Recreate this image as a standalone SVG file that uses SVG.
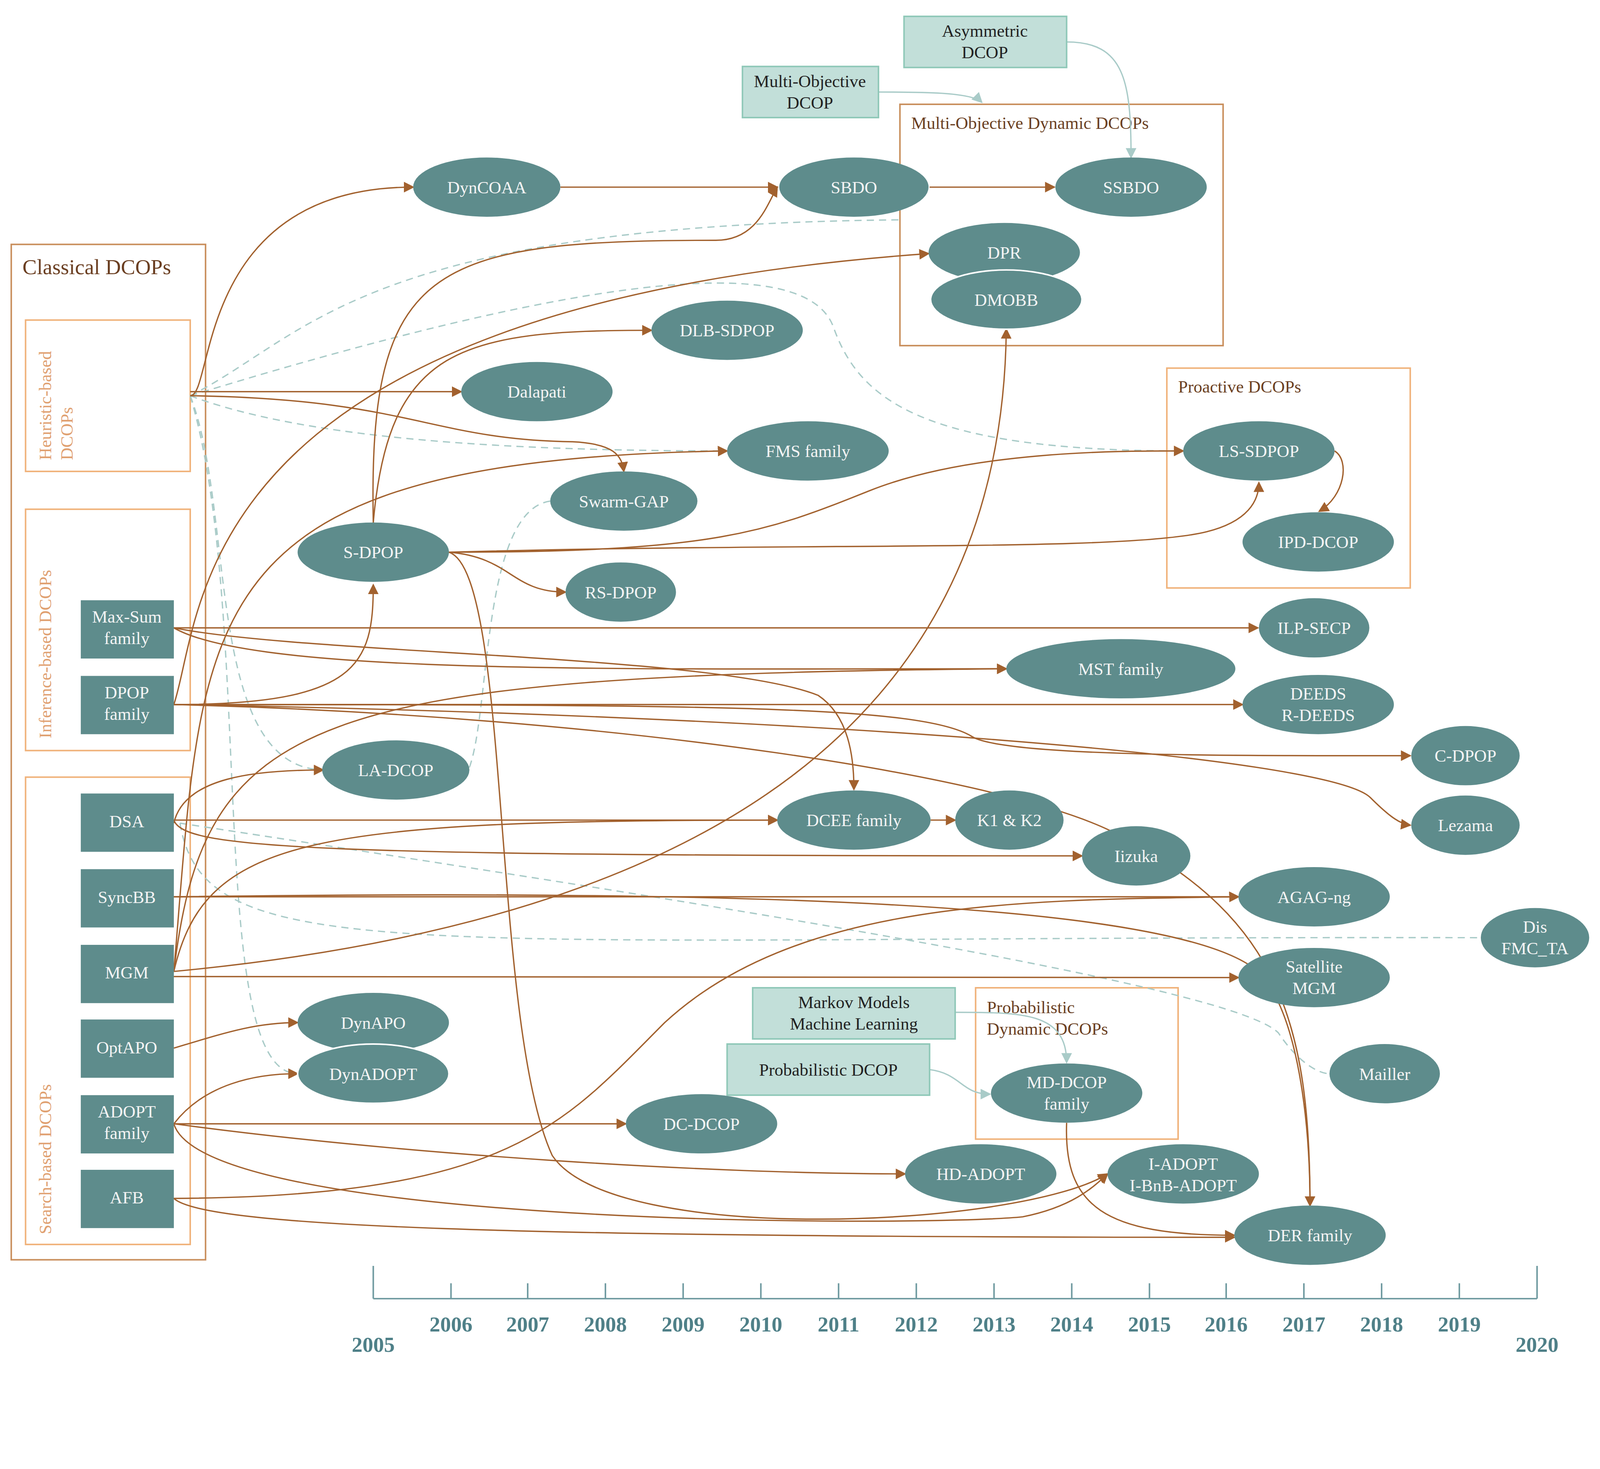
<svg xmlns="http://www.w3.org/2000/svg" width="4415" height="3761" viewBox="0 0 4415 3761">
<style>
.n ellipse,.n rect{fill:#5e8c8c}
.n text{fill:#f4f4f4;font-family:"Liberation Serif",serif;font-size:17px;text-anchor:middle}
.g rect{fill:#c2dfd9;stroke:#8fc8b8;stroke-width:1.5}
.g text{fill:#222;font-family:"Liberation Serif",serif;font-size:17px;text-anchor:middle}
.c{fill:none;stroke:#f0b27a;stroke-width:1.5}
.ct{fill:#6b3f22;font-family:"Liberation Serif",serif;font-size:17px}
.b{fill:none;stroke:#a2612e;stroke-width:1.3;marker-end:url(#ab)}
.d{fill:none;stroke:#a9cbc8;stroke-width:1.3;stroke-dasharray:7 5}
.t{fill:none;stroke:#a9cbc8;stroke-width:1.3;marker-end:url(#at)}
.y{fill:#4f8088;font-family:"Liberation Serif",serif;font-size:21px;font-weight:bold;text-anchor:middle}
</style>
<defs>
<marker id="ab" markerWidth="8" markerHeight="8" refX="7" refY="4" orient="auto" markerUnits="strokeWidth"><path d="M0,0 L8,4 L0,8 z" fill="#a2612e"/></marker>
<marker id="at" markerWidth="8" markerHeight="8" refX="7" refY="4" orient="auto" markerUnits="strokeWidth"><path d="M0,0 L8,4 L0,8 z" fill="#a9cbc8"/></marker>
</defs>
<rect width="4415" height="3761" fill="#fff"/>
<g transform="scale(2.618)">
<g id="containers">
<rect class="c" x="11" y="239" width="190" height="993" style="stroke:#c98f5d"/>
<text class="ct" x="22" y="268" style="font-size:21px">Classical DCOPs</text>
<rect class="c" x="25" y="313" width="161" height="148"/>
<text class="ct" transform="translate(50,450) rotate(-90)" style="fill:#e0a070">Heuristic-based</text>
<text class="ct" transform="translate(71,450) rotate(-90)" style="fill:#e0a070">DCOPs</text>
<rect class="c" x="25" y="498" width="161" height="236"/>
<text class="ct" transform="translate(50,722) rotate(-90)" style="fill:#e0a070">Inference-based DCOPs</text>
<rect class="c" x="25" y="760" width="161" height="457"/>
<text class="ct" transform="translate(50,1207) rotate(-90)" style="fill:#e0a070">Search-based DCOPs</text>
<rect class="c" x="880" y="102" width="316" height="236" style="stroke:#c98f5d"/>
<text class="ct" x="891" y="126">Multi-Objective Dynamic DCOPs</text>
<rect class="c" x="1141" y="360" width="238" height="215"/>
<text class="ct" x="1152" y="384">Proactive DCOPs</text>
<rect class="c" x="954" y="966" width="198" height="148"/>
<text class="ct" x="965" y="991">Probabilistic</text>
<text class="ct" x="965" y="1012">Dynamic DCOPs</text>
</g>
<g id="connectors">
<path class="d" d="M186,387 C300,330 350,220 880,215"/>
<path class="d" d="M186,387 C600,260 790,250 815,320 C840,390 900,441 1157,441"/>
<path class="d" d="M186,387 C300,430 500,441 711,441"/>
<path class="d" d="M186,387 C230,500 200,750 316,753"/>
<path class="d" d="M186,387 C250,600 200,1050 291,1050"/>
<path class="d" d="M176,805 C200,950 400,915 1448,917"/>
<path class="d" d="M176,805 C600,870 1200,960 1250,1010 C1270,1040 1290,1050 1300,1050"/>
<path class="d" d="M538,490 C470,500 480,700 458,753"/>
<path class="t" d="M1043,41 C1100,41 1106,80 1106,154"/>
<path class="t" d="M859,90 C900,90 950,90 960,100"/>
<path class="t" d="M934,990 C1000,990 1043,990 1043,1039"/>
<path class="t" d="M909,1046 C940,1050 940,1070 968,1070"/>
<path class="b" d="M186,387 C210,387 190,183 404,183"/>
<path class="b" d="M186,383 L451,383"/>
<path class="b" d="M186,387 C400,390 420,430 560,432 C600,434 608,445 610,461"/>
<path class="b" d="M548,183 L760,183"/>
<path class="b" d="M909,183 L1031,183"/>
<path class="b" d="M365,511 C360,260 420,235 700,235 C740,235 750,200 760,183"/>
<path class="b" d="M170,689 C200,600 180,300 908,248"/>
<path class="b" d="M365,511 C380,340 450,323 637,323"/>
<path class="b" d="M170,689 C350,689 365,650 365,572"/>
<path class="b" d="M439,540 C500,545 500,579 553,579"/>
<path class="b" d="M439,540 C700,540 750,520 850,480 C950,440 1100,441 1157,441"/>
<path class="b" d="M439,540 C800,530 1100,540 1180,520 C1220,510 1231,490 1231,472"/>
<path class="b" d="M439,540 C500,560 480,1000 540,1130 C600,1220 1000,1200 1083,1148"/>
<path class="b" d="M1305,441 C1320,450 1315,485 1290,500"/>
<path class="b" d="M170,950 C700,900 980,700 984,322"/>
<path class="b" d="M170,950 C200,600 180,450 711,441"/>
<path class="b" d="M170,614 L1230,614"/>
<path class="b" d="M170,614 C300,640 700,640 800,680 C830,700 835,740 835,772"/>
<path class="b" d="M170,614 C250,660 600,654 984,654"/>
<path class="b" d="M170,689 L1215,689"/>
<path class="b" d="M170,689 C700,689 900,690 950,720 C980,740 1200,739 1379,739"/>
<path class="b" d="M170,689 C800,700 1300,740 1340,780 C1360,800 1370,806 1379,807"/>
<path class="b" d="M170,689 C600,700 1000,760 1100,820 C1250,900 1281,1000 1281,1179"/>
<path class="b" d="M170,805 C180,760 250,753 316,753"/>
<path class="b" d="M170,802 L760,802"/>
<path class="b" d="M910,802 L934,802"/>
<path class="b" d="M170,802 C180,830 300,837 1058,837"/>
<path class="b" d="M170,955 L1211,956"/>
<path class="b" d="M170,877 C600,877 1100,877 1211,877"/>
<path class="b" d="M170,877 C700,870 1150,880 1230,950 C1270,990 1281,1100 1281,1179"/>
<path class="b" d="M170,950 C200,700 300,660 984,654"/>
<path class="b" d="M170,950 C200,820 300,802 760,802"/>
<path class="b" d="M170,1025 C220,1010 250,1000 291,1000"/>
<path class="b" d="M170,1099 C200,1060 250,1050 291,1050"/>
<path class="b" d="M170,1099 L612,1099"/>
<path class="b" d="M170,1099 C400,1130 700,1148 885,1148"/>
<path class="b" d="M170,1099 C200,1200 900,1200 1000,1190 C1050,1180 1070,1160 1083,1148"/>
<path class="b" d="M170,1172 C500,1170 550,1100 650,1000 C780,880 1000,880 1211,877"/>
<path class="b" d="M170,1172 C200,1200 500,1210 1207,1210"/>
<path class="b" d="M1043,1098 C1040,1180 1080,1208 1207,1208"/>
</g>
<g id="boxes" class="g">
<rect x="884" y="16" width="159" height="50"/><text x="963" y="36">Asymmetric</text><text x="963" y="57">DCOP</text>
<rect x="726" y="65" width="133" height="50"/><text x="792" y="85">Multi-Objective</text><text x="792" y="106">DCOP</text>
<rect x="736" y="966" width="198" height="50"/><text x="835" y="986">Markov Models</text><text x="835" y="1007">Machine Learning</text>
<rect x="711" y="1021" width="198" height="50"/><text x="810" y="1052">Probabilistic DCOP</text>
</g>
<g class="n">
<g id="maxsum"><rect x="79" y="587" width="91" height="57"/><text x="124" y="609">Max-Sum</text><text x="124" y="630">family</text></g>
<g id="dpop"><rect x="79" y="661" width="91" height="57"/><text x="124" y="683">DPOP</text><text x="124" y="704">family</text></g>
<g id="dsa"><rect x="79" y="776" width="91" height="57"/><text x="124" y="809">DSA</text></g>
<g id="syncbb"><rect x="79" y="850" width="91" height="57"/><text x="124" y="883">SyncBB</text></g>
<g id="mgm"><rect x="79" y="924" width="91" height="57"/><text x="124" y="957">MGM</text></g>
<g id="optapo"><rect x="79" y="997" width="91" height="57"/><text x="124" y="1030">OptAPO</text></g>
<g id="adopt"><rect x="79" y="1071" width="91" height="57"/><text x="124" y="1093">ADOPT</text><text x="124" y="1114">family</text></g>
<g id="afb"><rect x="79" y="1144" width="91" height="57"/><text x="124" y="1177">AFB</text></g>
<g id="dyncoaa"><ellipse cx="476" cy="183" rx="72" ry="29"/><text x="476" y="189">DynCOAA</text></g>
<g id="sbdo"><ellipse cx="835" cy="183" rx="73" ry="29"/><text x="835" y="189">SBDO</text></g>
<g id="ssbdo"><ellipse cx="1106" cy="183" rx="74" ry="29"/><text x="1106" y="189">SSBDO</text></g>
<g id="dpr"><ellipse cx="982" cy="247" rx="74" ry="29"/><text x="982" y="253">DPR</text></g>
<g id="dmobb"><ellipse cx="984" cy="293" rx="74" ry="29" style="stroke:#fff;stroke-width:1.5"/><text x="984" y="299">DMOBB</text></g>
<g id="dlb"><ellipse cx="711" cy="323" rx="74" ry="29"/><text x="711" y="329">DLB-SDPOP</text></g>
<g id="dalapati"><ellipse cx="525" cy="383" rx="74" ry="29"/><text x="525" y="389">Dalapati</text></g>
<g id="fms"><ellipse cx="790" cy="441" rx="79" ry="29"/><text x="790" y="447">FMS family</text></g>
<g id="swarm"><ellipse cx="610" cy="490" rx="72" ry="29"/><text x="610" y="496">Swarm-GAP</text></g>
<g id="sdpop"><ellipse cx="365" cy="540" rx="74" ry="29"/><text x="365" y="546">S-DPOP</text></g>
<g id="rsdpop"><ellipse cx="607" cy="579" rx="54" ry="29"/><text x="607" y="585">RS-DPOP</text></g>
<g id="lssdpop"><ellipse cx="1231" cy="441" rx="74" ry="29"/><text x="1231" y="447">LS-SDPOP</text></g>
<g id="ipd"><ellipse cx="1289" cy="530" rx="74" ry="29"/><text x="1289" y="536">IPD-DCOP</text></g>
<g id="ilp"><ellipse cx="1285" cy="614" rx="54" ry="29"/><text x="1285" y="620">ILP-SECP</text></g>
<g id="mst"><ellipse cx="1096" cy="654" rx="112" ry="29"/><text x="1096" y="660">MST family</text></g>
<g id="deeds"><ellipse cx="1289" cy="689" rx="74" ry="29"/><text x="1289" y="684">DEEDS</text><text x="1289" y="705">R-DEEDS</text></g>
<g id="cdpop"><ellipse cx="1433" cy="739" rx="53" ry="29"/><text x="1433" y="745">C-DPOP</text></g>
<g id="ladcop"><ellipse cx="387" cy="753" rx="72" ry="29"/><text x="387" y="759">LA-DCOP</text></g>
<g id="dcee"><ellipse cx="835" cy="802" rx="75" ry="29"/><text x="835" y="808">DCEE family</text></g>
<g id="k1k2"><ellipse cx="987" cy="802" rx="53" ry="29"/><text x="987" y="808">K1 &amp; K2</text></g>
<g id="lezama"><ellipse cx="1433" cy="807" rx="53" ry="29"/><text x="1433" y="813">Lezama</text></g>
<g id="iizuka"><ellipse cx="1111" cy="837" rx="53" ry="29"/><text x="1111" y="843">Iizuka</text></g>
<g id="agag"><ellipse cx="1285" cy="877" rx="74" ry="29"/><text x="1285" y="883">AGAG-ng</text></g>
<g id="disfmc"><ellipse cx="1501" cy="917" rx="53" ry="29"/><text x="1501" y="912">Dis</text><text x="1501" y="933">FMC_TA</text></g>
<g id="satmgm"><ellipse cx="1285" cy="956" rx="74" ry="29"/><text x="1285" y="951">Satellite</text><text x="1285" y="972">MGM</text></g>
<g id="mailler"><ellipse cx="1354" cy="1050" rx="54" ry="29"/><text x="1354" y="1056">Mailler</text></g>
<g id="dynapo"><ellipse cx="365" cy="1000" rx="74" ry="29"/><text x="365" y="1006">DynAPO</text></g>
<g id="dynadopt"><ellipse cx="365" cy="1050" rx="74" ry="29" style="stroke:#fff;stroke-width:1.5"/><text x="365" y="1056">DynADOPT</text></g>
<g id="mddcop"><ellipse cx="1043" cy="1069" rx="74" ry="29"/><text x="1043" y="1064">MD-DCOP</text><text x="1043" y="1085">family</text></g>
<g id="dcdcop"><ellipse cx="686" cy="1099" rx="74" ry="29"/><text x="686" y="1105">DC-DCOP</text></g>
<g id="hdadopt"><ellipse cx="959" cy="1148" rx="74" ry="29"/><text x="959" y="1154">HD-ADOPT</text></g>
<g id="iadopt"><ellipse cx="1157" cy="1148" rx="74" ry="29"/><text x="1157" y="1144">I-ADOPT</text><text x="1157" y="1165">I-BnB-ADOPT</text></g>
<g id="der"><ellipse cx="1281" cy="1208" rx="74" ry="29"/><text x="1281" y="1214">DER family</text></g>
</g>
<g id="timeline" stroke="#6f9aa0" stroke-width="1.5">
<path d="M365,1270 H1503 M365,1238 V1270 M1503,1238 V1270 M441,1255 V1270 M516,1255 V1270 M592,1255 V1270 M668,1255 V1270 M744,1255 V1270 M820,1255 V1270 M896,1255 V1270 M972,1255 V1270 M1048,1255 V1270 M1124,1255 V1270 M1199,1255 V1270 M1275,1255 V1270 M1351,1255 V1270 M1427,1255 V1270"/>
</g>
<g stroke="none">
<text class="y" x="365" y="1322">2005</text>
<text class="y" x="441" y="1302">2006</text>
<text class="y" x="516" y="1302">2007</text>
<text class="y" x="592" y="1302">2008</text>
<text class="y" x="668" y="1302">2009</text>
<text class="y" x="744" y="1302">2010</text>
<text class="y" x="820" y="1302">2011</text>
<text class="y" x="896" y="1302">2012</text>
<text class="y" x="972" y="1302">2013</text>
<text class="y" x="1048" y="1302">2014</text>
<text class="y" x="1124" y="1302">2015</text>
<text class="y" x="1199" y="1302">2016</text>
<text class="y" x="1275" y="1302">2017</text>
<text class="y" x="1351" y="1302">2018</text>
<text class="y" x="1427" y="1302">2019</text>
<text class="y" x="1503" y="1322">2020</text>
</g>
</g>
</svg>
